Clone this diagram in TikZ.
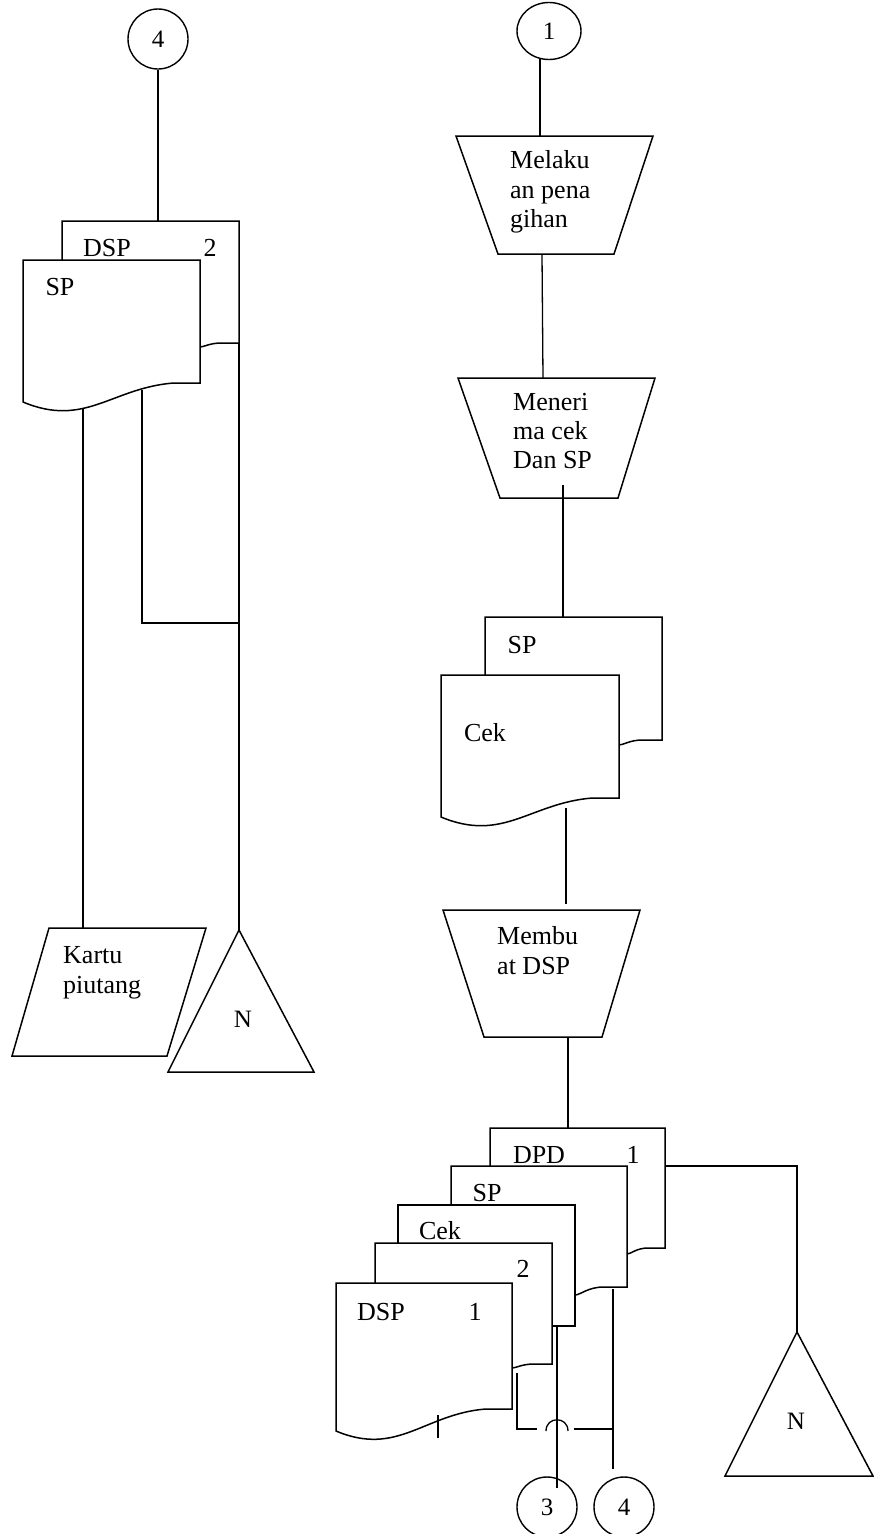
\documentclass[tikz,border=0pt]{standalone}
\usepackage{fontspec}
\setmainfont{Liberation Serif}
\usetikzlibrary{shapes.geometric}
\tikzset{
 shp/.style={line width=1.5pt, line join=miter},
 ln/.style={line width=1.3pt},
 lbl/.style={font=\fontsize{26}{30}\selectfont, inner sep=0pt},
 nlbl/.style={font=\fontsize{25}{29}\selectfont, inner sep=0pt},
 conn/.style={draw, circle, line width=1.4pt, minimum size=60pt, inner sep=0pt, font=\fontsize{25}{29}\selectfont},
}
% front document: name, x1, x2, top, right-bottom, left-bottom
\newcommand\fdoc[6]{%
 \pgfmathsetmacro\fdW{#3-#2}%
 \pgfmathsetmacro\fdAx{#2+0.85*\fdW}%
 \pgfmathsetmacro\fdBx{#2+0.5*\fdW}%
 \pgfmathsetmacro\fdCx{#2+0.35*\fdW}%
 \pgfmathsetmacro\fdBy{#5+5}%
 \pgfmathsetmacro\fdCy{#6+26}%
 \draw[shp,fill=white] (#2,#4) coordinate (#1-tl) -- (#3,#4) coordinate (#1-tr) -- (#3,#5) coordinate (#1-br) -- (\fdAx,#5) .. controls (\fdBx,\fdBy) and (\fdCx,\fdCy) .. (#2,#6) coordinate (#1-bl) -- cycle;}
% back document: name, x1, x2, top, next top, right-bottom, next x2, drop
\newcommand\bdoc[8]{%
 \pgfmathsetmacro\bdAx{#3-0.45*(#3-#7)}%
 \pgfmathsetmacro\bdBx{#7+0.25*(#3-#7)}%
 \pgfmathsetmacro\bdCx{#7+0.1*(#3-#7)}%
 \pgfmathsetmacro\bdY{#6+#8}%
 \draw[shp] (#2,#5) coordinate (#1-bl) -- (#2,#4) coordinate (#1-tl) -- (#3,#4) coordinate (#1-tr) -- (#3,#6) coordinate (#1-br) -- (\bdAx,#6) .. controls (\bdBx,#6) and (\bdCx,\bdY) .. (#7,\bdY) coordinate (#1-end);}
\begin{document}
\begin{tikzpicture}[x=1pt,y=-1pt]
\useasboundingbox (0,0) rectangle (874,1534);

% ===== left column =====
\node[conn] (c4t) at (158,39) {4};
\bdoc{dspL}{62}{239}{221}{260}{343}{200}{4}
\fdoc{spL}{23}{200}{260}{383}{402}
\node[lbl] (dspLt) at (107,248) {DSP};
\node[lbl] (dspLn) at (210,248) {2};
\node[lbl] (spLt) at (60,287) {SP};
\coordinate (dspL-in) at (158,221);
\draw[ln] (c4t.south) -- (dspL-in);

% Kartu piutang
\draw[shp] (49,928) coordinate (kartu-top) -- (206,928) -- (167,1056) -- (12,1056) -- cycle;
\node[lbl,anchor=base west] (kartu1) at (63,963) {Kartu};
\node[lbl,anchor=base west] (kartu2) at (63,993) {piutang};
% N left
\draw[shp] (239,930) coordinate (nL-top) -- (314,1072) -- (168,1072) -- cycle;
\node[nlbl] (nL) at (243,1019) {N};

\coordinate (spL-o1) at (83,409);
\coordinate (kartu-in) at (83,928);
\draw[ln] (spL-o1) -- (kartu-in);
\coordinate (spL-o2) at (142,390);
\coordinate (jL) at (239,623);
\draw[ln] (spL-o2) -- (142,623) -- (jL);
\draw[ln] (dspL-br) -- (nL-top);

% ===== right column =====
\node[conn,ellipse,minimum width=64pt,minimum height=57pt] (c1) at (549,31) {1};
\coordinate (c1-out) at (540,59);
\coordinate (t1-in) at (540,136);
\draw[ln] (c1-out) -- (t1-in);

\draw[shp] (456,136) -- (653,136) -- (614,254) -- (498,254) -- cycle;
\node[lbl,anchor=base west] (t1a) at (510,168) {Melaku};
\node[lbl,anchor=base west] (t1b) at (510,198) {an pena};
\node[lbl,anchor=base west] (t1c) at (510,227) {gihan};

\coordinate (t1-out) at (542,254);
\coordinate (t2-in) at (543,378);
\draw[ln] (t1-out) -- (t2-in);

\draw[shp] (458,378) -- (655,378) -- (618,498) -- (500,498) -- cycle;
\node[lbl,anchor=base west] (t2a) at (513,410) {Meneri};
\node[lbl,anchor=base west] (t2b) at (513,439) {ma cek};
\node[lbl,anchor=base west] (t2c) at (513,468) {Dan SP};

\coordinate (t2-out) at (563,485);
\coordinate (spR-in) at (563,617);
\draw[ln] (t2-out) -- (spR-in);

\bdoc{spR}{485}{662}{617}{675}{740}{619}{5}
\fdoc{cekR}{441}{619}{675}{798}{817}
\node[lbl] (spRt) at (522,645) {SP};
\node[lbl] (cekRt) at (485,733) {Cek};

\coordinate (cekR-out) at (566,808);
\coordinate (t3-in) at (566,904);
\draw[ln] (cekR-out) -- (t3-in);

\draw[shp] (443,910) -- (640,910) -- (602,1037) -- (484,1037) -- cycle;
\node[lbl,anchor=base west] (t3a) at (497,944) {Membu};
\node[lbl,anchor=base west] (t3b) at (497,974) {at DSP};

\coordinate (t3-out) at (568,1037);
\coordinate (dpd-in) at (568,1128);
\draw[ln] (t3-out) -- (dpd-in);

% stack of documents
\bdoc{dpd}{490}{665}{1128}{1166}{1248}{627}{6}
\bdoc{spS}{451}{627}{1166}{1205}{1287}{575}{8}
\bdoc{cekS}{398}{575}{1205}{1243}{1326}{552}{0}
\bdoc{d4}{375}{552}{1243}{1283}{1364}{512}{4}
\fdoc{dsp1}{336}{512}{1283}{1409}{1431}
\node[lbl] (dpdt) at (539,1155) {DPD};
\node[lbl] (dpdn) at (633,1155) {1};
\node[lbl] (spSt) at (487,1193) {SP};
\node[lbl] (cekSt) at (440,1231) {Cek};
\node[lbl] (d4n) at (523,1269) {2};
\node[lbl] (dsp1t) at (381,1312) {DSP};
\node[lbl] (dsp1n) at (475,1312) {1};
\draw[ln] (438,1415) -- (438,1438);

% N right
\draw[shp] (797,1332) coordinate (nR-top) -- (873,1476) -- (725,1476) -- cycle;
\node[nlbl] (nR) at (796,1421) {N};
\coordinate (dpd-out) at (665,1166);
\draw[ln] (dpd-out) -- (797,1166) -- (nR-top);

% connectors to off-page connectors
\node[conn] (c3) at (547,1507) {3};
\node[conn] (c4b) at (624,1507) {4};
\coordinate (cekS-out) at (557,1326);
\coordinate (c3-in) at (557,1488);
\draw[ln] (cekS-out) -- (c3-in);
\coordinate (spS-out) at (613,1289);
\coordinate (c4b-in) at (613,1469);
\draw[ln] (spS-out) -- (c4b-in);
\coordinate (d4-out) at (517,1373);
\coordinate (jB) at (613,1429);
\draw[ln] (d4-out) -- (517,1429) -- (537,1429);
\draw[ln] (546,1431) .. controls (546,1416) and (568,1416) .. (568,1431);
\draw[ln] (574,1429) -- (jB);
\end{tikzpicture}
\end{document}
